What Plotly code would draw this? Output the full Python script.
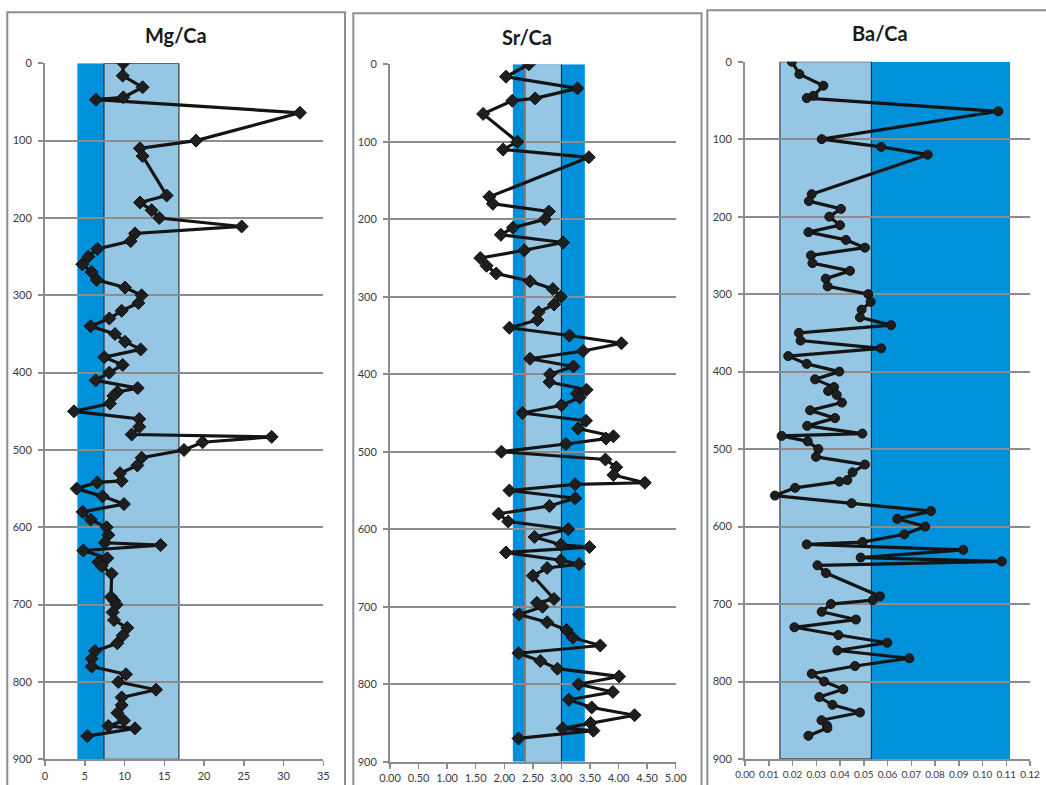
import plotly.graph_objects as go

# ---------------- data ----------------
depth = [0, 16, 31, 44, 47, 64, 100, 110, 120,
         171, 180, 190, 200, 211, 220, 230, 240, 250, 260,
         270, 280, 290, 300, 310, 320, 330, 340, 350, 360,
         370, 380, 390, 400, 410, 420, 425, 430, 440, 450,
         460, 470, 480, 483, 490, 500, 510, 520, 530, 540,
         542, 550, 560, 570, 580, 590, 600, 610, 620, 623,
         630, 640, 645, 650, 660, 690, 695, 700, 710, 720,
         730, 740, 750, 760, 770, 780, 790, 800, 810, 820,
         830, 840, 850, 857, 860, 870]

mg_ca = [9.85, 9.77, 12.28, 9.85, 6.41, 32.06, 18.99, 11.94, 12.28,
         15.3, 11.94, 13.41, 14.37, 24.73, 11.32, 10.77, 6.58, 5.45, 4.69,
         5.87, 6.5, 10.06, 12.15, 11.74, 9.64, 8.09, 5.74, 8.8, 10.06,
         12.03, 7.46, 9.77, 8.09, 6.37, 11.66, 9.1, 8.6, 8.18, 3.65,
         11.85, 11.86, 10.9, 28.5, 19.82, 17.48, 12.15, 11.61, 9.43, 9.64,
         6.58, 3.98, 7.25, 9.93, 4.74, 5.74, 7.75, 7.96, 7.54, 14.54,
         4.82, 7.84, 6.71, 7.13, 8.38, 8.3, 8.7, 9.0, 8.51, 8.68,
         10.35, 9.77, 9.1, 6.29, 5.87, 5.87, 10.18, 9.22, 13.96, 9.64,
         9.64, 9.1, 9.93, 7.96, 11.32, 5.32]

sr_ca = [2.43, 2.03, 3.28, 2.54, 2.14, 1.63, 2.23, 1.98, 3.48,
         1.74, 1.80, 2.78, 2.71, 2.15, 1.94, 3.03, 2.35, 1.58, 1.69,
         1.86, 2.45, 2.85, 2.99, 2.87, 2.60, 2.58, 2.09, 3.14, 4.05,
         3.38, 2.45, 3.21, 2.80, 2.79, 3.44, 3.27, 3.32, 3.00, 2.32,
         3.43, 3.29, 3.91, 3.78, 3.08, 1.95, 3.77, 3.96, 3.91, 4.46,
         3.24, 2.09, 3.24, 2.79, 1.90, 2.07, 3.12, 2.53, 2.99, 3.49,
         2.03, 2.99, 3.31, 2.75, 2.50, 2.87, 2.57, 2.67, 2.26, 2.75,
         3.09, 3.20, 3.68, 2.25, 2.63, 2.93, 4.01, 3.30, 3.90, 3.13,
         3.53, 4.28, 3.51, 3.02, 3.56, 2.25]

ba_ca = [0.0197, 0.0229, 0.0330, 0.0288, 0.0260, 0.1067, 0.0323, 0.0573, 0.0769,
         0.0281, 0.0269, 0.0404, 0.0355, 0.0400, 0.0267, 0.0425, 0.0505, 0.0278, 0.0284,
         0.0442, 0.0340, 0.0348, 0.0519, 0.0529, 0.0491, 0.0484, 0.0615, 0.0227, 0.0234,
         0.0573, 0.0182, 0.0260, 0.0397, 0.0295, 0.0375, 0.0350, 0.0386, 0.0408, 0.0274,
         0.0379, 0.0262, 0.0494, 0.0154, 0.0264, 0.0309, 0.0299, 0.0505, 0.0453, 0.0431,
         0.0397, 0.0211, 0.0126, 0.0449, 0.0783, 0.0641, 0.0759, 0.0671, 0.0495, 0.0260,
         0.0919, 0.0487, 0.1081, 0.0305, 0.0341, 0.0568, 0.0538, 0.0362, 0.0323, 0.0467,
         0.0208, 0.0393, 0.0599, 0.0389, 0.0692, 0.0463, 0.0281, 0.0333, 0.0414, 0.0313,
         0.0368, 0.0484, 0.0322, 0.0345, 0.0347, 0.0267]

# reference bands
mg_dark_band = [4.07, 7.42]
mg_light_band = [7.42, 16.85]
sr_dark_band = [2.15, 3.41]
sr_light_band = [2.36, 3.00]
ba_light_band = [0.0147, 0.0532]
ba_dark_band = [0.0532, 0.1116]

titles = ["Mg/Ca", "Sr/Ca", "Ba/Ca"]
depth_ticks = [0, 100, 200, 300, 400, 500, 600, 700, 800, 900]
mg_ticks = [0, 5, 10, 15, 20, 25, 30, 35]
sr_ticks = [0.0, 0.5, 1.0, 1.5, 2.0, 2.5, 3.0, 3.5, 4.0, 4.5, 5.0]
ba_ticks = [0.00, 0.01, 0.02, 0.03, 0.04, 0.05, 0.06, 0.07, 0.08, 0.09, 0.10, 0.11, 0.12]

# ---------------- styling ----------------
W, H = 1046, 785
DARK = "#0091da"
LIGHT = "#95c6e4"
GRID = "#8c8c8c"
TXT = "#3a3a3a"
FONT = "Lato"


def fx(px):
    return px / W


def fy(py):
    return 1 - py / H


fig = go.Figure()

line_style = dict(color="#141414", width=3.2)
fig.add_trace(go.Scatter(x=mg_ca, y=depth, mode="lines+markers", line=line_style,
                         marker=dict(symbol="diamond", size=10, color="#1e1e1e",
                                     line=dict(color="#111111", width=1)),
                         xaxis="x", yaxis="y", showlegend=False))
fig.add_trace(go.Scatter(x=sr_ca, y=depth, mode="lines+markers", line=line_style,
                         marker=dict(symbol="diamond", size=10, color="#1e1e1e",
                                     line=dict(color="#111111", width=1)),
                         xaxis="x2", yaxis="y2", showlegend=False))
fig.add_trace(go.Scatter(x=ba_ca, y=depth, mode="lines+markers", line=line_style,
                         marker=dict(symbol="circle", size=9, color="#1e1e1e",
                                     line=dict(color="#111111", width=1)),
                         xaxis="x3", yaxis="y3", showlegend=False))

panels = [
    # (x-domain px, y-domain px (top, bottom), xrange, xticks, fmt)
    ((45, 323.3), (63.3, 759.3), [0, 35], mg_ticks, "d"),
    ((390, 675.7), (64.3, 761.7), [0, 5], sr_ticks, ".2f"),
    ((745, 1030), (61.7, 759.0), [0, 0.12], ba_ticks, ".2f"),
]
tick_sizes = [11, 11, 10]

layout = dict(width=W, height=H,
              margin=dict(l=0, r=0, t=0, b=0, pad=0, autoexpand=False),
              paper_bgcolor="white", plot_bgcolor="rgba(0,0,0,0)",
              showlegend=False, font=dict(family=FONT, color=TXT))

for i, (xd, yd, xr, xt, fmt) in enumerate(panels):
    sfx = "" if i == 0 else str(i + 1)
    layout["xaxis" + sfx] = dict(
        domain=[fx(xd[0]), fx(xd[1])], range=xr, tickvals=xt, tickformat=fmt,
        showgrid=False, zeroline=False, showline=True, linecolor=GRID, linewidth=2,
        ticks="outside", ticklen=5, tickwidth=1.5, tickcolor=GRID,
        tickfont=dict(size=tick_sizes[i], color=TXT, family=FONT),
        anchor="y" + sfx, fixedrange=True, automargin=False)
    layout["yaxis" + sfx] = dict(
        domain=[fy(yd[1]), fy(yd[0])], range=[900, 0], tickvals=depth_ticks,
        showgrid=True, gridcolor=GRID, gridwidth=2, zeroline=False,
        showline=True, linecolor=GRID, linewidth=2,
        ticks="outside", ticklen=5, tickwidth=2, tickcolor=GRID,
        ticklabelstandoff=4,
        tickfont=dict(size=11, color=TXT, family=FONT),
        anchor="x" + sfx, fixedrange=True, automargin=False)

shapes = []


def band(xref, yref, x0, x1, color, border=None):
    shapes.append(dict(type="rect", xref=xref, yref=yref, x0=x0, x1=x1, y0=0, y1=900,
                       fillcolor=color, layer="below",
                       line=dict(width=1 if border else 0, color=border or color)))


band("x", "y", mg_dark_band[0], mg_dark_band[1], DARK)
band("x", "y", mg_light_band[0], mg_light_band[1], LIGHT, "#1a1a1a")

band("x2", "y2", sr_dark_band[0], sr_dark_band[1], DARK)
band("x2", "y2", sr_light_band[0], sr_light_band[1], LIGHT)
shapes.append(dict(type="line", xref="x2", yref="y2", x0=sr_light_band[0], x1=sr_light_band[0],
                   y0=0, y1=900, layer="below", line=dict(color="#7a7a7a", width=2)))
shapes.append(dict(type="line", xref="x2", yref="y2", x0=sr_light_band[1], x1=sr_light_band[1],
                   y0=0, y1=900, layer="below", line=dict(color="#1a1a1a", width=1)))

band("x3", "y3", ba_dark_band[0], ba_dark_band[1], DARK)
band("x3", "y3", ba_light_band[0], ba_light_band[1], LIGHT, "#1a1a1a")

# chart-area frames
frames = [(7.3, 345.0, 12.3), (353.3, 701.5, 13.3), (707.3, 1053.0, 10.3)]
for (l, r, t) in frames:
    shapes.append(dict(type="rect", xref="paper", yref="paper",
                       x0=fx(l), x1=fx(r), y0=fy(t), y1=fy(800),
                       line=dict(color="#8a8f96", width=2), fillcolor="rgba(0,0,0,0)",
                       layer="below"))
layout["shapes"] = shapes

title_pos = [(176, 35), (527, 37), (880, 33)]
layout["annotations"] = [
    dict(text="<b>%s</b>" % t, x=fx(px), y=fy(py), xref="paper", yref="paper",
         showarrow=False, xanchor="center", yanchor="middle",
         font=dict(size=20, color="#1a1a1a", family=FONT))
    for t, (px, py) in zip(titles, title_pos)
]

fig.update_layout(**layout)
fig.write_html(
    "out.html",
    config={"displayModeBar": False, "staticPlot": True},
    post_script="document.body.style.margin='0px';document.body.style.padding='0px';"
                "document.body.style.overflow='hidden';",
)
